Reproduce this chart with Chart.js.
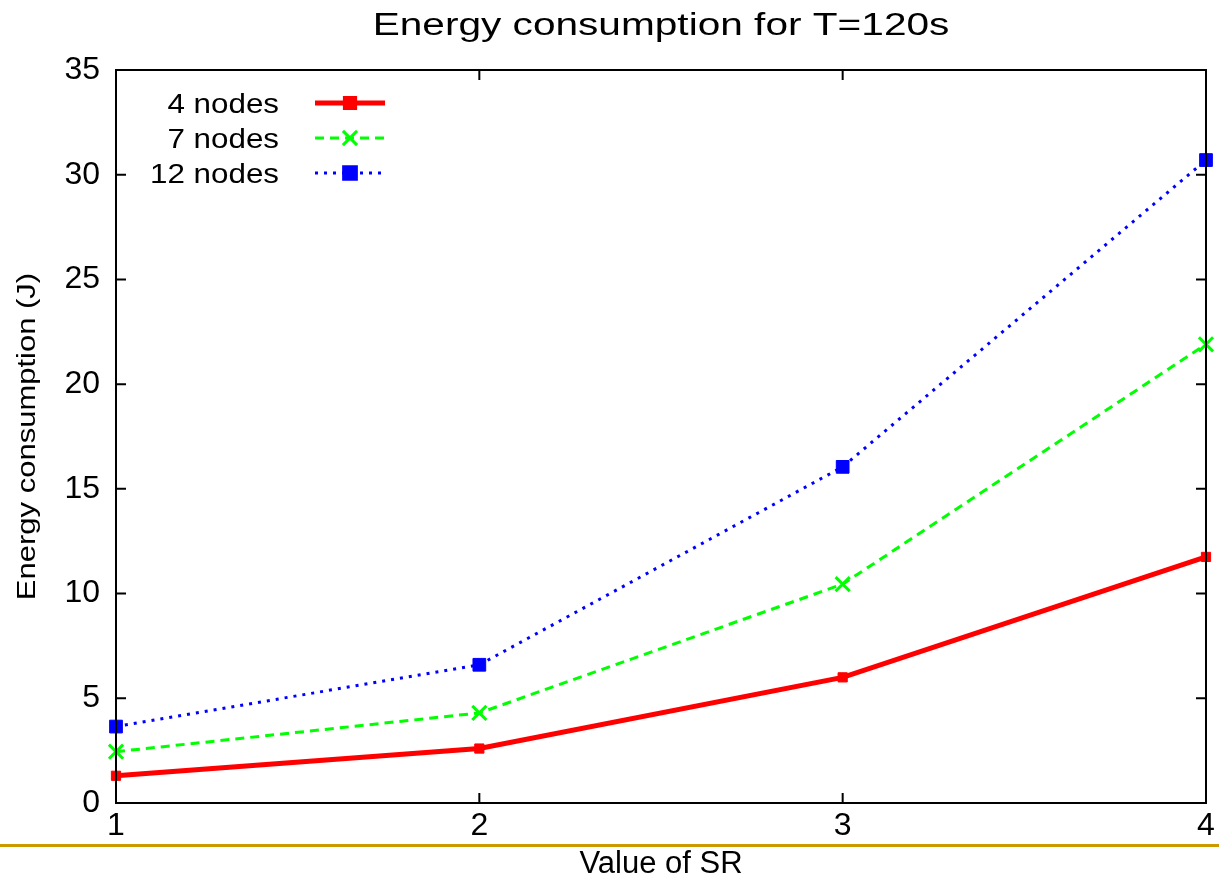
<!DOCTYPE html>
<html>
<head>
<meta charset="utf-8">
<script src="https://cdn.jsdelivr.net/npm/chart.js@4"></script>
<style>
  html, body { margin: 0; padding: 0; background: #fff; }
  #wrap { width: 1219px; height: 876px; }
</style>
</head>
<body>
<div id="wrap"><canvas id="energy"></canvas></div>
<script>
'use strict'

var sr = [1, 2, 3, 4];
var nodes4 = [1.3, 2.6, 6.0, 11.75];
var nodes7 = [2.45, 4.3, 10.45, 21.9];
var nodes12 = [3.65, 6.6, 16.05, 30.7];
var yTicks = [0, 5, 10, 15, 20, 25, 30, 35];

var font = "'Liberation Sans', Arial, Helvetica, sans-serif";
Chart.defaults.font.family = font;
Chart.defaults.color = '#000';

function pts(ys) {
  return sr.map(function (x, i) { return {x: x, y: ys[i]}; });
}

// text a little wider than the font, like the gnuplot export
function text(c, str, x, y, size, sx, align, rot) {
  c.save();
  c.translate(x, y);
  if (rot) c.rotate(rot);
  c.scale(sx, 1);
  c.font = size + 'px ' + font;
  c.textAlign = align;
  c.textBaseline = 'alphabetic';
  c.fillStyle = '#000';
  c.fillText(str, 0, 0);
  c.restore();
}

// gnuplot style frame: box, inward ticks, legend, titles, gold rule
var frame = {
  id: 'frame',
  afterDatasetsDraw: function (chart) {
    var c = chart.ctx, a = chart.chartArea;
    var xs = chart.scales.x, ys = chart.scales.y;
    var midX = (a.left + a.right) / 2, midY = (a.top + a.bottom) / 2;
    c.save();
    c.strokeStyle = '#000';
    c.lineWidth = 2;
    c.strokeRect(a.left, a.top, a.right - a.left, a.bottom - a.top);
    c.beginPath();
    yTicks.forEach(function (v) {
      var p = ys.getPixelForValue(v);
      c.moveTo(a.left, p); c.lineTo(a.left + 10, p);
      c.moveTo(a.right, p); c.lineTo(a.right - 10, p);
    });
    sr.forEach(function (v) {
      var p = xs.getPixelForValue(v);
      c.moveTo(p, a.bottom); c.lineTo(p, a.bottom - 10);
      c.moveTo(p, a.top); c.lineTo(p, a.top + 10);
    });
    c.stroke();

    // titles
    text(c, 'Energy consumption for T=120s', midX, 35, 31, 1.31, 'center');
    text(c, 'Energy consumption (J)', 35, midY, 25, 1.24, 'center', -Math.PI / 2);
    text(c, 'Value of SR', midX, 873, 31, 1, 'center');

    // legend
    chart.data.datasets.forEach(function (ds, i) {
      var y = 103 + i * 35;
      text(c, ds.label, 279, y + 10, 28, 1.12, 'right');
      c.strokeStyle = ds.borderColor;
      c.lineWidth = ds.borderWidth;
      c.setLineDash(ds.borderDash || []);
      c.beginPath();
      c.moveTo(315, y); c.lineTo(385, y);
      c.stroke();
      c.setLineDash([]);
      c.fillStyle = ds.borderColor;
      Chart.helpers.drawPoint(c, {
        pointStyle: ds.pointStyle, radius: ds.pointRadius, rotation: 0,
        borderWidth: ds.pointBorderWidth
      }, 350, y);
    });

    // gold rule at the bottom
    c.strokeStyle = '#cc9900';
    c.lineWidth = 3;
    c.beginPath();
    c.moveTo(0, 845.5); c.lineTo(chart.width, 845.5);
    c.stroke();
    c.restore();
  }
};

var ctx = document.getElementById('energy');
var chart = new Chart(ctx, {
  type: 'line',
  data: {
    datasets: [{
      label: '4 nodes',
      data: pts(nodes4),
      borderColor: '#ff0000',
      backgroundColor: '#ff0000',
      borderWidth: 5,
      pointStyle: 'rect',
      pointRadius: 6.5,
      pointBorderWidth: 1,
      clip: false
    }, {
      label: '7 nodes',
      data: pts(nodes7),
      borderColor: '#00ff00',
      backgroundColor: '#00ff00',
      borderWidth: 3,
      borderDash: [9, 6],
      pointStyle: 'crossRot',
      pointRadius: 10,
      pointBorderWidth: 3,
      clip: false
    }, {
      label: '12 nodes',
      data: pts(nodes12),
      borderColor: '#0000ff',
      backgroundColor: '#0000ff',
      borderWidth: 3,
      borderDash: [3, 6],
      pointStyle: 'rect',
      pointRadius: 9,
      pointBorderWidth: 1,
      clip: false
    }]
  },
  options: {
    responsive: true,
    maintainAspectRatio: false,
    animation: false,
    layout: {padding: {left: 0, right: 5, top: 70, bottom: 0}},
    plugins: {
      legend: {display: false},
      tooltip: {enabled: false},
      title: {display: false}
    },
    scales: {
      x: {
        type: 'linear',
        min: 1, max: 4,
        grid: {display: false, drawTicks: false},
        border: {display: false},
        ticks: {stepSize: 1, font: {size: 32}, padding: 4, color: '#000'},
        afterFit: function (s) { s.height = 73; }
      },
      y: {
        min: 0, max: 35,
        grid: {display: false, drawTicks: false},
        border: {display: false},
        ticks: {stepSize: 5, font: {size: 32}, padding: 16, color: '#000'},
        afterFit: function (s) { s.width = 116; }
      }
    }
  },
  plugins: [frame]
});
</script>
</body>
</html>
